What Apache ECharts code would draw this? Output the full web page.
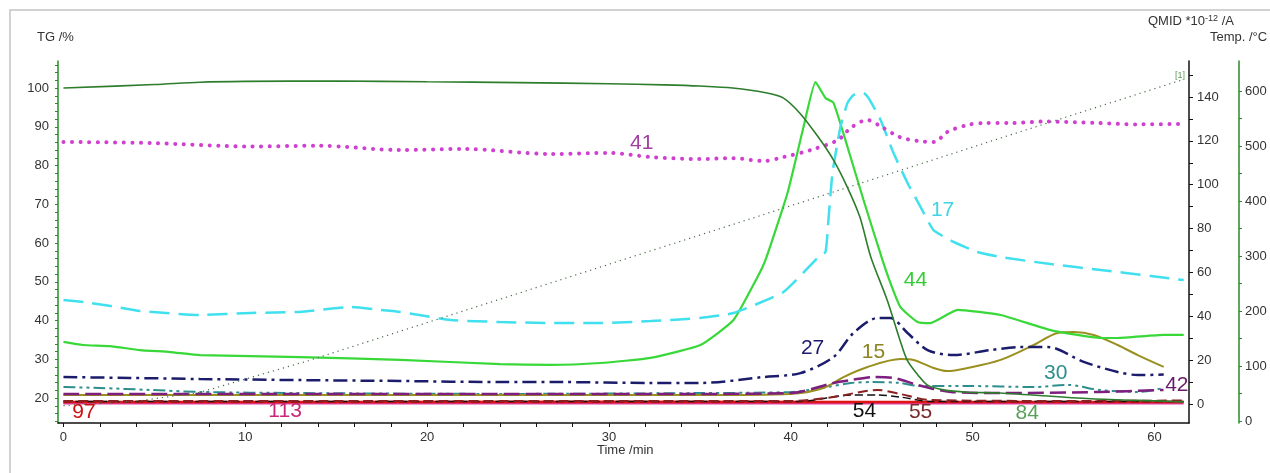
<!DOCTYPE html>
<html>
<head>
<meta charset="utf-8">
<script src="https://cdn.jsdelivr.net/npm/echarts@6/dist/echarts.min.js"></script>
<style>
  html, body { margin: 0; padding: 0; background: #fff; }
  #chart { width: 1270px; height: 473px; }
</style>
</head>
<body>
<div id="chart"></div>
<script>
  // tick labels
  const timeLabels = [0, 10, 20, 30, 40, 50, 60]
  const tgLabels = [20, 30, 40, 50, 60, 70, 80, 90, 100]
  const qmidLabels = [0, 20, 40, 60, 80, 100, 120, 140]
  const tempLabels = [0, 100, 200, 300, 400, 500, 600]

  // TG /% vs time /min
  const tgCurve = [[0, 100], [5, 100.9], [7.5, 101.5], [10, 101.7], [15, 101.8], [20, 101.6], [25, 101.4],
    [30, 101.1], [33, 100.8], [35, 100.5], [36.8, 100], [38.7, 98.7], [39.6, 97.4], [40.5, 93.5],
    [41.5, 87.4], [42.35, 81.4], [43.1, 74.5], [43.8, 66.7], [44.4, 56.4], [45.3, 45.3], [46.0, 35.0],
    [46.4, 29.8], [47.0, 25.9], [47.5, 23.4], [48.4, 22.1], [49.7, 21.5], [51.5, 21.3], [56.5, 19.8],
    [60.5, 19.2], [61.6, 19.0]]

  // Temp. /°C
  const tempCurve = [[0, 28], [4, 36], [7.5, 52], [13.5, 110], [35, 338], [51.5, 514], [61.5, 620]]

  // QMID ion currents
  const m41 = [[0, 119.5], [4.8, 119.0], [10.3, 117.4], [14, 117.8], [18.5, 115.8], [22, 116.3], [26.8, 114.0],
    [30, 114.5], [32.3, 112.6], [35.0, 111.7], [36.8, 112.1], [38.5, 110.8], [39.6, 112.6], [41.1, 115.8],
    [42.6, 120.4], [43.3, 125.9], [44.2, 129.5], [45.0, 126.3], [46.0, 121.7], [47.0, 119.9], [47.9, 119.5],
    [48.6, 124.0], [49.7, 127.2], [50.6, 128.1], [52, 128.1], [54, 128.8], [57, 128.1], [59, 127.5], [61.6, 127.7]]
  const m17 = [[0, 47.4], [1.1, 46.5], [2.6, 44.7], [4.2, 42.4], [7.5, 40.6], [10.3, 41.5], [13.0, 42.0],
    [15.8, 44.2], [17.4, 42.9], [18.5, 42.0], [21.3, 38.3], [24.0, 37.4], [26.8, 36.9], [29.5, 36.9],
    [32.3, 37.8], [35.0, 39.2], [36.85, 41.5], [39.6, 51.1], [41.47, 66.6], [41.91, 69.3], [42.07, 83.9],
    [42.29, 105.3], [42.73, 126.3], [43.12, 137.3], [43.45, 140.9], [44.0, 141.8], [44.28, 139.5],
    [44.94, 129.5], [45.65, 114.4], [46.42, 100.8], [47.14, 89.8], [47.85, 79.3], [48.95, 73.9],
    [50.27, 69.3], [51.54, 67.0], [54.29, 63.8], [57.05, 61.1], [59.8, 58.4], [61.61, 56.5]]
  const m44 = [[0, 28.3], [1.07, 26.9], [2.56, 26.4], [4.21, 24.6], [5.86, 23.7], [7.51, 22.3], [13.02, 21.4],
    [18.52, 20.1], [24.02, 18.2], [26.78, 17.8], [29.53, 18.7], [32.28, 21.0], [35.03, 26.9], [36.85, 38.3],
    [38.17, 57.9], [38.61, 65.7], [39.82, 96.2], [40.7, 126.3], [41.36, 146.8], [41.91, 139.5], [42.35, 137.3],
    [43.12, 117.2], [44.0, 93.0], [45.04, 65.7], [45.48, 55.2], [46.03, 44.2], [46.97, 37.4], [47.68, 36.9],
    [49.17, 42.9], [51.54, 40.6], [54.29, 33.7], [57.05, 30.1], [57.98, 30.1], [60.51, 31.5], [61.61, 31.5]]
  const m27 = [[0, 12.3], [3.66, 11.9], [7.51, 11.4], [13.02, 10.9], [18.52, 10.5], [24.02, 10.0], [27.33, 10.0],
    [32.28, 9.6], [35.03, 9.6], [38.5, 12.3], [40.53, 14.1], [42.35, 21.4], [43.45, 32.4], [44.77, 39.2],
    [45.48, 39.2], [46.42, 32.4], [47.52, 24.6], [48.95, 22.3], [50.99, 24.6], [52.64, 26.0], [54.13, 26.0],
    [56.11, 19.2], [57.98, 14.6], [59.08, 13.2], [60.51, 13.4]]
  const m15 = [[0, 4.1], [18.5, 4.1], [35.0, 4.1], [39.98, 4.6], [41.8, 7.3], [42.9, 12.3], [44.22, 16.9],
    [46.03, 20.5], [46.75, 20.1], [47.85, 16.4], [48.6, 15.0], [49.72, 16.4], [51.54, 20.1], [53.36, 26.9],
    [54.68, 32.4], [55.56, 32.8], [56.66, 31.5], [57.98, 26.9], [59.08, 22.3], [60.51, 16.9]]
  const m30 = [[0, 7.75], [2.0, 7.3], [4.8, 6.4], [7.5, 5.5], [13.0, 5.0], [24.0, 4.6], [35.0, 5.0],
    [40.0, 5.5], [42.0, 7.75], [43.3, 9.6], [44.5, 10.0], [46.0, 9.6], [47.1, 8.2], [49.7, 8.2],
    [53.4, 7.75], [55.2, 8.7], [57.0, 6.4], [59.1, 5.5], [60.5, 7.3]]
  const m42 = [[0, 4.6], [35.0, 4.6], [40.0, 5.0], [42.35, 9.6], [43.3, 10.9], [44.55, 12.3], [45.65, 11.9],
    [46.97, 8.7], [48.8, 5.5], [51.5, 5.0], [57.0, 5.5], [60.5, 6.4]]
  const m55 = [[0, 1.4], [40.0, 1.4], [42.35, 3.2], [44.77, 6.4], [46.0, 4.6], [47.7, 1.8], [55.0, 1.4], [61.6, 1.6]]
  const m54 = [[0, 1.2], [40.5, 1.2], [43.3, 4.1], [44.77, 4.1], [46.0, 3.2], [47.7, 1.2], [61.6, 1.2]]
  const m84 = [[0, 0.5], [30, 0.5], [61.6, 0.6]]
  const m97 = [[0, 0.9], [15, 0.9], [30, 1.0], [45, 0.9], [61.6, 0.9]]
  const m113 = [[0, 0.2], [30, 0.2], [61.6, 0.2]]

  // curve labels: [time, qmid]
  const curveLabels = {
    '41': [31.8, 119.0], '17': [48.35, 88.5], '44': [46.86, 56.5], '27': [41.2, 25.5], '15': [44.55, 23.7],
    '30': [54.57, 14.1], '42': [61.23, 8.7], '54': [44.05, -3.5], '55': [47.14, -3.9], '84': [53.0, -4.3],
    '97': [1.13, -3.9], '113': [12.19, -3.5]
  }

  const font = '"Liberation Sans", Arial, sans-serif'

  const ms = (name, data, color, lineStyle, labelColor, smooth) => {
    const pos = curveLabels[name]
    return {
      name: name,
      type: 'line',
      yAxisIndex: 1,
      data: data,
      showSymbol: false,
      silent: true,
      smooth: smooth || false,
      lineStyle: Object.assign({ color: color, width: 2 }, lineStyle),
      markPoint: {
        symbol: 'circle',
        symbolSize: 0,
        silent: true,
        label: {
          show: true,
          position: 'inside',
          formatter: name,
          color: labelColor || color,
          fontSize: 21,
          fontFamily: font,
        },
        data: [{ coord: pos, value: name }],
      },
    }
  }

  const chart = echarts.init(document.getElementById('chart'))
  const option = {
    animation: false,
    backgroundColor: '#fff',
    grid: { left: 58, right: 81, top: 61, bottom: 50, containLabel: false },
    graphic: [
      { type: 'rect', shape: { x: 10, y: 10, width: 1300, height: 500 }, style: { fill: 'none', stroke: '#c4c4c4', lineWidth: 1.5 }, silent: true },
      { type: 'text', left: 37, top: 31, style: { text: 'TG /%', font: '13px ' + font, fill: '#333' } },
      { type: 'text', left: 1210, top: 31, style: { text: 'Temp. /°C', font: '13px ' + font, fill: '#333' } },
      {
        type: 'text', left: 1148, top: 14,
        style: {
          text: '{a|QMID *10}{s|-12}{a| /A}',
          rich: {
            a: { fontSize: 13, fontFamily: font, fill: '#333', color: '#333' },
            s: { fontSize: 9, fontFamily: font, fill: '#333', color: '#333', verticalAlign: 'top', padding: [0, 0, 6, 0] },
          },
        },
      },
      { type: 'text', left: 597, top: 444, style: { text: 'Time /min', font: '13px ' + font, fill: '#333' } },
      { type: 'text', left: 1175, top: 71, style: { text: '[1]', font: '9px ' + font, fill: '#5a9a5a' } },
    ],
    xAxis: {
      type: 'value',
      min: -0.3,
      max: 61.9,
      splitLine: { show: false },
      axisLine: { show: true, onZero: false, lineStyle: { color: '#111', width: 1.5 } },
      axisTick: { show: true, length: 4, lineStyle: { color: '#111' }, customValues: Array.from({ length: 31 }, (_, i) => i * 2) },
      axisLabel: { color: '#333', fontSize: 13, fontFamily: font, margin: 8, customValues: timeLabels },
    },
    yAxis: [
      {
        type: 'value',
        position: 'left',
        min: 13.55,
        max: 106.97,
        splitLine: { show: false },
        axisLine: { show: true, onZero: false, lineStyle: { color: '#2a8a2a', width: 1.5 } },
        axisTick: { show: true, length: 3, lineStyle: { color: '#2a8a2a' }, customValues: Array.from({ length: 47 }, (_, i) => 14 + i * 2) },
        axisLabel: { color: '#333', fontSize: 13, fontFamily: font, margin: 9, customValues: tgLabels },
      },
      {
        type: 'value',
        position: 'right',
        min: -8.66,
        max: 156.4,
        splitLine: { show: false },
        axisLine: { show: true, onZero: false, lineStyle: { color: '#111', width: 1.5 } },
        axisTick: { show: true, length: 4, lineStyle: { color: '#111' }, customValues: Array.from({ length: 16 }, (_, i) => i * 10) },
        axisLabel: { color: '#333', fontSize: 13, fontFamily: font, margin: 8, customValues: qmidLabels },
      },
      {
        type: 'value',
        position: 'right',
        offset: 50,
        min: -3.6,
        max: 654.5,
        splitLine: { show: false },
        axisLine: { show: true, onZero: false, lineStyle: { color: '#2a8a2a', width: 1.5 } },
        axisTick: { show: true, length: 3, lineStyle: { color: '#2a8a2a' }, customValues: Array.from({ length: 13 }, (_, i) => i * 50) },
        axisLabel: { color: '#333', fontSize: 13, fontFamily: font, margin: 6, customValues: tempLabels },
      },
    ],
    series: [
      ms('84', m84, '#5aa05a', { width: 1.5 }),
      ms('113', m113, '#e040a0', { width: 2 }, '#c8287a'),
      ms('97', m97, '#dd1515', { width: 2.5 }, '#cc1111'),
      ms('54', m54, '#111111', { width: 1.5, type: [8, 4] }, null, 0.3),
      ms('55', m55, '#8b2020', { width: 2, type: [10, 5] }, '#7a2a2a', 0.3),
      ms('30', m30, '#2e8e8e', { width: 2, type: [12, 4, 3, 4, 3, 4] }, null, 0.3),
      ms('15', m15, '#9a9020', { width: 2 }, '#8c8420', 0.3),
      ms('42', m42, '#7e1e7e', { width: 2.5, type: [16, 6] }, '#6a1a6a', 0.3),
      ms('27', m27, '#1c1c6c', { width: 2.5, type: [14, 5, 3, 5] }, '#1a1a6a', 0.3),
      ms('44', m44, '#38d838', { width: 2.2 }, '#33cc33', 0.15),
      ms('17', m17, '#40e0ee', { width: 2.5, type: [20, 9] }, '#3ed4e4', 0.15),
      ms('41', m41, '#d040d0', { width: 4, type: [0.1, 8.5], cap: 'round' }, '#a040a0', 0.3),
      {
        name: 'TG',
        type: 'line',
        yAxisIndex: 0,
        data: tgCurve,
        showSymbol: false,
        smooth: 0.3,
        silent: true,
        lineStyle: { color: '#2d7d2d', width: 1.6 },
      },
      {
        name: 'Temp',
        type: 'line',
        yAxisIndex: 2,
        data: tempCurve,
        showSymbol: false,
        silent: true,
        lineStyle: { color: '#4a6a4a', width: 1.2, type: [1.2, 4] },
      },
    ],
  }
  option && chart.setOption(option)
</script>
</body>
</html>
